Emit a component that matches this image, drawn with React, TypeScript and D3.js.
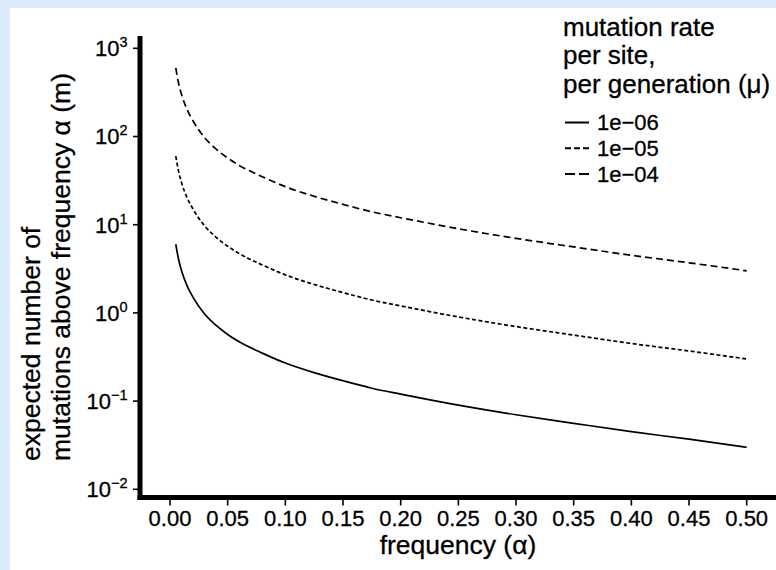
import React, { useEffect } from "react";
import * as d3 from "d3";

const alphas = [0.005, 0.0075, 0.01, 0.015, 0.02, 0.03, 0.04, 0.05, 0.06, 0.08, 0.1, 0.125, 0.15, 0.175, 0.2, 0.25, 0.3, 0.35, 0.4, 0.45, 0.5];
const mu6 = [6.0, 4.0, 3.0, 2.0, 1.5, 0.97, 0.72, 0.57, 0.47, 0.35, 0.27, 0.21, 0.17, 0.14, 0.12, 0.09, 0.07, 0.056, 0.045, 0.037, 0.03];
const mu5 = [60, 40, 30, 20, 15, 9.7, 7.2, 5.7, 4.7, 3.5, 2.7, 2.1, 1.7, 1.4, 1.2, 0.9, 0.7, 0.56, 0.45, 0.37, 0.3];
const mu4 = [600, 400, 300, 200, 150, 97, 72, 57, 47, 35, 27, 21, 17, 14, 12, 9, 7, 5.6, 4.5, 3.7, 3.0];
const seriesNames = ["1e\u221206", "1e\u221205", "1e\u221204"];
const seriesDash = ["", "4,2.5", "7,4"];
const xTicks = [0, 0.05, 0.1, 0.15, 0.2, 0.25, 0.3, 0.35, 0.4, 0.45, 0.5];
const yTicks = [1e-2, 1e-1, 1e0, 1e1, 1e2, 1e3];
const yExps = ["\u22122", "\u22121", "0", "1", "2", "3"];
const legendTitle = ["mutation rate", "per site,", "per generation (\u03bc)"];
const legendSymbols = ["solid", "dotted", "dashed"];

const FONT = "'Liberation Sans', Arial, Helvetica, sans-serif";

export default function App() {
  useEffect(() => {
    document.body.style.margin = "0";
  }, []);
  const W = 776, H = 570;
  const x = d3.scaleLinear().domain([0, 0.5]).range([170, 746.7]);
  const y = d3.scaleLog().domain([1e-2, 1e3]).range([489.3, 48.3]);
  const line = d3
    .line<[number, number]>()
    .x((d) => x(d[0]))
    .y((d) => y(d[1]))
    .curve(d3.curveMonotoneX);
  const series = [mu6, mu5, mu4];
  const axisY = 497.5;
  const axisX = 140;
  const textStroke = { stroke: "#000", strokeWidth: 0.3 };
  return (
    <svg width={W} height={H} style={{ display: "block" }} fontFamily={FONT}>
      <rect x={0} y={0} width={W} height={H} fill="#dcebfb" />
      <rect x={10} y={8} width={W - 10} height={H - 8} fill="#ffffff" />
      {series.map((vals, i) => (
        <path
          key={i}
          d={line(alphas.map((a, j) => [a, vals[j]]) as [number, number][]) || ""}
          fill="none"
          stroke="#000"
          strokeWidth={1.7}
          strokeDasharray={seriesDash[i] || undefined}
        />
      ))}
      {/* axes */}
      <line x1={axisX} x2={axisX} y1={36} y2={axisY + 2.5} stroke="#000" strokeWidth={5} />
      <line x1={axisX - 2.5} x2={W + 5} y1={axisY} y2={axisY} stroke="#000" strokeWidth={5} />
      {yTicks.map((t, i) => (
        <g key={i}>
          <line x1={axisX - 7} x2={axisX} y1={y(t)} y2={y(t)} stroke="#000" strokeWidth={1.6} />
          <text x={127.5} y={y(t) + 7.8} textAnchor="end" fontSize={22} {...textStroke}>
            <tspan>10</tspan>
            <tspan dy={-9} fontSize={14.5}>{yExps[i]}</tspan>
          </text>
        </g>
      ))}
      {xTicks.map((t, i) => (
        <g key={i}>
          <line x1={x(t)} x2={x(t)} y1={axisY} y2={axisY + 8} stroke="#000" strokeWidth={1.6} />
          <text x={x(t)} y={525.8} textAnchor="middle" fontSize={22} {...textStroke}>
            {d3.format(".2f")(t)}
          </text>
        </g>
      ))}
      <text x={458} y={554.3} textAnchor="middle" fontSize={26.5} {...textStroke}>
        frequency ({"\u03b1"})
      </text>
      <text transform="translate(40,461) rotate(-90)" textAnchor="start" fontSize={26.5} {...textStroke}>
        expected number of
      </text>
      <text transform="translate(70,461) rotate(-90)" textAnchor="start" fontSize={26.5} {...textStroke}>
        mutations above frequency {"\u03b1"} (m)
      </text>
      {/* legend */}
      {legendTitle.map((s, i) => (
        <text key={i} x={563} y={35.5 + i * 28.5} fontSize={26} {...textStroke}>
          {s}
        </text>
      ))}
      {seriesNames.map((s, i) => {
        const by = 130 + i * 25.8;
        return (
          <g key={i}>
            <line
              x1={565}
              x2={589}
              y1={by - 7.5}
              y2={by - 7.5}
              stroke="#000"
              strokeWidth={2}
              strokeDasharray={legendSymbols[i] === "solid" ? undefined : legendSymbols[i] === "dotted" ? "6,3" : "10,4"}
            />
            <text x={597} y={by} fontSize={22} {...textStroke}>
              {s}
            </text>
          </g>
        );
      })}
    </svg>
  );
}
